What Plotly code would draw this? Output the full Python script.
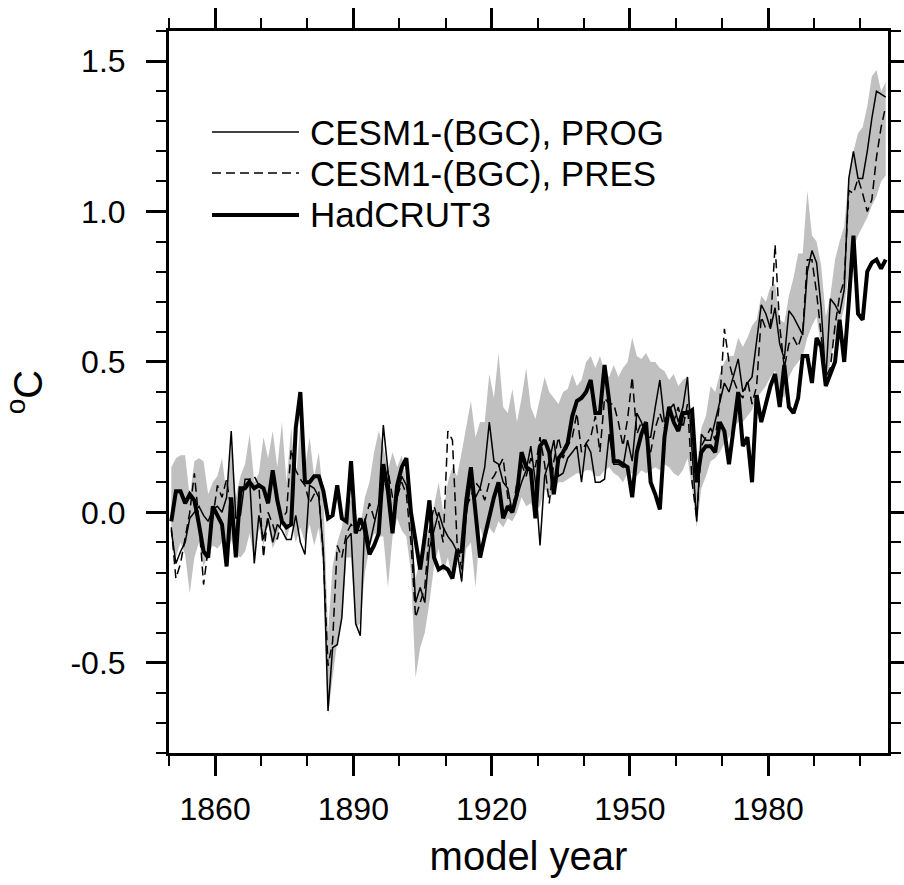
import plotly.graph_objects as go

years = list(range(1850, 2006))

prog = [
    -0.06, -0.17, -0.13, -0.10, -0.02, 0.00, 0.02, -0.01, -0.03, 0.01,
    0.02, 0.00, 0.05, 0.27, -0.02, -0.01, 0.11, 0.11, -0.17, -0.01,
    -0.09, -0.02, -0.10, -0.04, -0.06, -0.09, -0.09, -0.01, -0.10, -0.14,
    0.09, 0.08, 0.05, -0.13, -0.66, -0.45, -0.44, -0.35, -0.09, -0.07,
    -0.37, -0.41, -0.02, -0.11, -0.04, 0.03, 0.29, 0.14, -0.04, 0.05,
    0.12, 0.09, -0.02, -0.30, -0.25, -0.30, -0.12, -0.06, 0.00, -0.05,
    -0.08, -0.10, -0.13, -0.23, -0.01, 0.10, 0.05, 0.08, 0.15, 0.30,
    0.17, 0.16, 0.10, 0.08, 0.00, 0.05, 0.10, 0.14, 0.22, 0.10,
    -0.11, 0.12, 0.17, 0.24, 0.12, 0.13, 0.18, 0.20, 0.22, 0.10,
    0.23, 0.20, 0.10, 0.10, 0.11, 0.26, 0.16, 0.16, 0.15, 0.24,
    0.17, 0.33, 0.30, 0.25, 0.25, 0.35, 0.44, 0.30, 0.34, 0.36,
    0.30, 0.35, 0.45, 0.20, -0.03, 0.26, 0.24, 0.24, 0.30, 0.37,
    0.43, 0.40, 0.46, 0.51, 0.40, 0.43, 0.45, 0.57, 0.69, 0.66,
    0.61, 0.68, 0.56, 0.51, 0.67, 0.65, 0.62, 0.59, 0.80, 0.87,
    0.83, 0.68, 0.44, 0.71, 0.69, 0.66, 0.74, 1.11, 1.20, 1.11,
    1.11, 1.20, 1.31, 1.40, 1.39, 1.38,
]

pres = [
    -0.05, -0.22, -0.17, -0.08, 0.00, 0.13, -0.03, -0.24, -0.12, -0.02,
    0.09, 0.05, 0.11, 0.00, -0.09, 0.06, 0.09, 0.11, 0.12, 0.09,
    -0.15, 0.00, -0.04, -0.09, -0.02, 0.00, 0.21, 0.14, 0.11, 0.09,
    0.03, 0.06, 0.07, -0.15, -0.51, -0.43, -0.11, -0.15, -0.07, -0.04,
    -0.06, -0.06, -0.03, 0.03, -0.02, -0.03, 0.09, 0.14, 0.05, 0.05,
    0.10, 0.06, -0.10, -0.35, -0.30, -0.25, -0.06, 0.02, -0.03, -0.10,
    0.27, 0.24, -0.10, -0.19, 0.02, 0.05, 0.10, 0.08, 0.04, 0.10,
    0.12, 0.15, 0.18, 0.05, 0.00, 0.10, 0.16, 0.12, 0.18, 0.15,
    0.25, 0.16, 0.03, 0.17, 0.25, 0.18, 0.22, 0.25, 0.33, 0.20,
    0.23, 0.25, 0.32, 0.20, 0.38, 0.36, 0.36, 0.30, 0.22, 0.31,
    0.45, 0.26, 0.30, 0.25, 0.20, 0.28, 0.33, 0.28, 0.36, 0.30,
    0.35, 0.28, 0.36, 0.10, -0.02, 0.22, 0.25, 0.28, 0.24, 0.37,
    0.61, 0.50, 0.44, 0.40, 0.38, 0.44, 0.36, 0.42, 0.65, 0.61,
    0.62, 0.89, 0.62, 0.48, 0.56, 0.58, 0.55, 0.60, 0.84, 0.84,
    0.73, 0.60, 0.45, 0.48, 0.62, 0.72, 0.77, 1.07, 1.06, 1.11,
    1.06, 1.00, 1.04, 1.18, 1.28, 1.35,
]

hadcrut3 = [
    -0.03, 0.07, 0.07, 0.03, 0.06, 0.04, -0.04, -0.13, -0.15, 0.02,
    -0.01, -0.04, -0.18, 0.05, -0.15, 0.08, 0.08, 0.10, 0.08, 0.09,
    0.08, 0.03, 0.14, 0.04, -0.03, -0.05, -0.04, 0.28, 0.40, 0.10,
    0.10, 0.12, 0.12, 0.07, -0.02, -0.01, 0.09, -0.02, -0.03, 0.17,
    -0.07, -0.02, -0.06, -0.14, -0.11, -0.07, 0.16, 0.07, -0.07, 0.09,
    0.15, 0.18, 0.00, -0.10, -0.19, -0.08, 0.04, -0.15, -0.19, -0.18,
    -0.19, -0.22, -0.13, -0.13, 0.04, 0.15, -0.01, -0.15, -0.08, -0.01,
    0.05, 0.10, -0.02, 0.02, 0.00, 0.06, 0.20, 0.15, 0.14, -0.02,
    0.22, 0.24, 0.20, 0.06, 0.18, 0.20, 0.23, 0.32, 0.37, 0.38,
    0.40, 0.44, 0.33, 0.33, 0.49, 0.37, 0.17, 0.17, 0.16, 0.15,
    0.05, 0.20, 0.26, 0.30, 0.10, 0.06, 0.01, 0.25, 0.35, 0.30,
    0.27, 0.33, 0.33, 0.34, 0.10, 0.20, 0.22, 0.22, 0.20, 0.30,
    0.27, 0.16, 0.28, 0.40, 0.22, 0.25, 0.10, 0.39, 0.30, 0.36,
    0.42, 0.46, 0.35, 0.49, 0.35, 0.33, 0.38, 0.52, 0.52, 0.43,
    0.58, 0.55, 0.42, 0.46, 0.50, 0.64, 0.50, 0.70, 0.92, 0.66,
    0.64, 0.80, 0.83, 0.84, 0.81, 0.84,
]

band_low = [
    -0.08, -0.15, -0.10, -0.14, -0.27, -0.15, -0.10, -0.18, -0.14, -0.11,
    -0.12, -0.10, -0.15, -0.09, -0.14, -0.15, -0.13, -0.07, -0.16, -0.05,
    -0.11, -0.04, -0.12, -0.08, -0.02, -0.09, -0.03, -0.10, -0.05, -0.10,
    -0.04, -0.11, -0.05, -0.19, -0.67, -0.55, -0.43, -0.36, -0.15, -0.15,
    -0.38, -0.37, -0.20, -0.12, -0.07, -0.08, -0.08, -0.25, -0.08, -0.02,
    -0.06, -0.08, -0.20, -0.55, -0.45, -0.40, -0.30, -0.18, -0.12, -0.20,
    -0.15, -0.22, -0.15, -0.24, -0.12, -0.10, -0.25, -0.05, -0.10, -0.05,
    -0.07, -0.03, -0.05, -0.02, -0.03, 0.00, 0.05, 0.02, 0.03, 0.00,
    0.02, 0.08, 0.05, 0.06, 0.10, 0.10, 0.11, 0.12, 0.13, 0.13,
    0.14, 0.14, 0.12, 0.12, 0.14, 0.15, 0.13, 0.12, 0.10, 0.13,
    0.13, 0.12, 0.14, 0.13, 0.14, 0.15, 0.14, 0.16, 0.15, 0.13,
    0.12, 0.14, 0.18, 0.08, -0.05, 0.08, 0.12, 0.17, 0.18, 0.20,
    0.23, 0.25, 0.28, 0.30, 0.30, 0.32, 0.34, 0.38, 0.40, 0.42,
    0.45, 0.47, 0.40, 0.38, 0.45, 0.48, 0.50, 0.52, 0.58, 0.62,
    0.65, 0.55, 0.42, 0.50, 0.58, 0.62, 0.68, 0.80, 0.88, 0.92,
    0.95, 0.98, 1.02, 1.05, 1.10, 1.12,
]

band_high = [
    0.15, 0.18, 0.19, 0.19, 0.05, 0.17, 0.18, 0.17, 0.06, 0.10,
    0.12, 0.18, 0.06, 0.22, 0.05, 0.12, 0.16, 0.26, 0.10, 0.13,
    0.25, 0.18, 0.27, 0.15, 0.30, 0.10, 0.28, 0.10, 0.30, 0.15,
    0.25, 0.12, 0.20, 0.05, -0.40, -0.18, -0.10, -0.05, 0.05, 0.04,
    0.00, -0.05, 0.05, 0.10, 0.20, 0.27, 0.22, 0.14, 0.20, 0.15,
    0.19, 0.10, -0.05, -0.22, -0.15, -0.10, -0.05, 0.02, 0.10, 0.00,
    0.10, 0.15, 0.12, 0.20, 0.28, 0.37, 0.25, 0.30, 0.30, 0.46,
    0.38, 0.53, 0.35, 0.33, 0.41, 0.30, 0.38, 0.48, 0.35, 0.31,
    0.38, 0.45, 0.40, 0.38, 0.36, 0.40, 0.41, 0.46, 0.42, 0.44,
    0.50, 0.52, 0.48, 0.52, 0.47, 0.45, 0.49, 0.45, 0.48, 0.50,
    0.58, 0.52, 0.51, 0.53, 0.50, 0.50, 0.48, 0.47, 0.44, 0.46,
    0.42, 0.44, 0.45, 0.30, 0.15, 0.28, 0.32, 0.42, 0.40, 0.46,
    0.50, 0.52, 0.52, 0.58, 0.55, 0.58, 0.62, 0.64, 0.72, 0.70,
    0.75, 0.76, 0.64, 0.63, 0.72, 0.78, 0.86, 0.86, 1.07, 0.92,
    0.90, 0.82, 0.65, 0.72, 0.84, 0.90, 0.95, 1.12, 1.20, 1.26,
    1.28, 1.35, 1.45, 1.47, 1.40, 1.43,
]

series_names = ["CESM1-(BGC), PROG", "CESM1-(BGC), PRES", "HadCRUT3"]

x_ticks = [1860, 1890, 1920, 1950, 1980]
y_ticks = [-0.5, 0.0, 0.5, 1.0, 1.5]
y_tick_text = ["-0.5", "0.0", "0.5", "1.0", "1.5"]

# model years are centred mid-year
xs = [y + 0.5 for y in years]

FONT = "Liberation Sans, Arial, Helvetica, sans-serif"
BAND = "#c0c0c0"

fig = go.Figure()

fig.add_trace(go.Scatter(x=xs, y=band_low, mode="lines", line=dict(width=0, color=BAND),
                         showlegend=False, hoverinfo="skip"))
fig.add_trace(go.Scatter(x=xs, y=band_high, mode="lines", line=dict(width=0, color=BAND),
                         fill="tonexty", fillcolor=BAND, showlegend=False, hoverinfo="skip"))

styles = [
    dict(color="black", width=1.5),
    dict(color="black", width=1.5, dash="9px,5px"),
    dict(color="black", width=4),
]
for name, vals, st in zip([series_names[1], series_names[0], series_names[2]],
                          [pres, prog, hadcrut3], [styles[1], styles[0], styles[2]]):
    fig.add_trace(go.Scatter(x=xs, y=vals, mode="lines", name=name, line=st,
                             showlegend=False))

# hand-drawn legend (long line samples like the original)
L_X0, L_X1, T_X = 0.0598, 0.1808, 0.1933
rows = [0.8601, 0.8033, 0.7452]
for name, st, yy in zip(series_names, styles, rows):
    fig.add_shape(type="line", xref="paper", yref="paper", x0=L_X0, x1=L_X1, y0=yy, y1=yy,
                  line=st)
    fig.add_annotation(xref="paper", yref="paper", x=T_X, y=yy, text=name, showarrow=False,
                       xanchor="left", yanchor="middle", font=dict(family=FONT, size=35, color="black"))

axis_common = dict(
    showline=True, linewidth=3, linecolor="black", mirror="ticks",
    ticks="outside", ticklen=20, tickwidth=3, tickcolor="black",
    showgrid=False, zeroline=False,
    tickfont=dict(family=FONT, size=32, color="black"),
)

fig.update_xaxes(
    range=[1850, 2006], tickmode="array", tickvals=x_ticks,
    minor=dict(tickmode="linear", tick0=1850, dtick=10, ticks="outside", ticklen=10,
               tickwidth=2, tickcolor="black", showgrid=False),
    title=dict(text="model year", font=dict(family=FONT, size=40, color="black"), standoff=16),
    ticklabelstandoff=6,
    **axis_common,
)
fig.update_yaxes(
    range=[-0.8, 1.6], tickmode="array", tickvals=y_ticks, ticktext=y_tick_text,
    minor=dict(tickmode="linear", tick0=-0.8, dtick=0.1, ticks="outside", ticklen=10,
               tickwidth=2, tickcolor="black", showgrid=False),
    title=dict(text="<sup>o</sup>C", font=dict(family=FONT, size=40, color="black"), standoff=20),
    ticklabelstandoff=14,
    **axis_common,
)

fig.update_layout(
    width=904, height=885,
    margin=dict(l=169, r=16, t=31, b=132, autoexpand=False),
    paper_bgcolor="white", plot_bgcolor="white",
    showlegend=False,
)

fig.write_html("out.html")
